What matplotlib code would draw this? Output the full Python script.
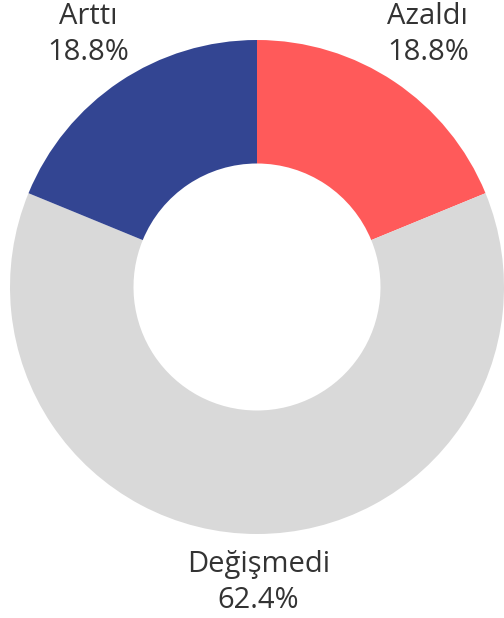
import matplotlib
matplotlib.use('Agg')
import matplotlib.pyplot as plt

plt.rcParams['font.family'] = ['Open Sans', 'DejaVu Sans']

# 数据
labels = ['Azaldı', 'Değişmedi', 'Arttı']
shares = [18.8, 62.4, 18.8]
colors = ['#FF5A5A', '#D9D9D9', '#334592']

fig = plt.figure(figsize=(5.04, 6.18), dpi=100)
ax = fig.add_axes([0, 0, 1, 1])

# 环形图，从顶部开始顺时针
wedges, _ = ax.pie(shares, colors=colors, startangle=90, counterclock=False,
                   radius=1, wedgeprops=dict(width=0.5, linewidth=0))

ax.set_aspect('equal')
ax.set_xlim(-257 / 247, 247 / 247)
ax.set_ylim(-331 / 247, 287 / 247)
ax.axis('off')

# 标签位置
label_pos = [(0.692, 1.022), (0.005, -1.197), (-0.684, 1.022)]
for lab, val, (x, y) in zip(labels, shares, label_pos):
    ax.text(x, y, f'{lab}\n{val:.1f}%', ha='center', va='center',
            fontsize=21, color='#333333', linespacing=1.32)

fig.savefig('out.png', dpi=100)
